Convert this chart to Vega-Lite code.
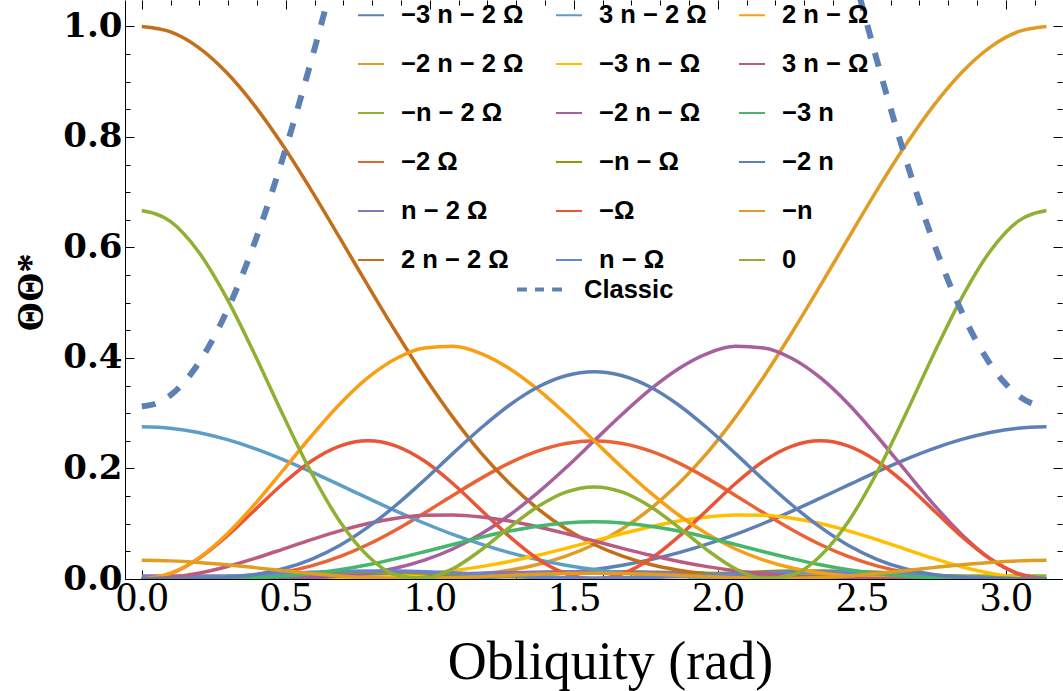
{
  "$schema": "https://vega.github.io/schema/vega-lite/v6.json",
  "autosize": {"type": "none"},
  "padding": {"left": 125, "top": 0, "right": 1, "bottom": 112},
  "width": 937,
  "height": 579,
  "config": {"view": {"stroke": null}, "font": "Liberation Serif"},
  "datasets": {
    "curves": [
      {"t":"−3 n − 2 Ω","x":0,"y":0},{"t":"−3 n − 2 Ω","x":0.0982,"y":0},{"t":"−3 n − 2 Ω","x":0.1963,"y":0},{"t":"−3 n − 2 Ω","x":0.2945,"y":0},{"t":"−3 n − 2 Ω","x":0.3927,"y":0},{"t":"−3 n − 2 Ω","x":0.4909,"y":0},{"t":"−3 n − 2 Ω","x":0.589,"y":0},{"t":"−3 n − 2 Ω","x":0.6872,"y":0},{"t":"−3 n − 2 Ω","x":0.7854,"y":0.0001},{"t":"−3 n − 2 Ω","x":0.8836,"y":0.0003},{"t":"−3 n − 2 Ω","x":0.9817,"y":0.0007},{"t":"−3 n − 2 Ω","x":1.0799,"y":0.0013},{"t":"−3 n − 2 Ω","x":1.1781,"y":0.0025},{"t":"−3 n − 2 Ω","x":1.2763,"y":0.0044},{"t":"−3 n − 2 Ω","x":1.3744,"y":0.0072},{"t":"−3 n − 2 Ω","x":1.4726,"y":0.0114},{"t":"−3 n − 2 Ω","x":1.5708,"y":0.0172},{"t":"−3 n − 2 Ω","x":1.669,"y":0.025},{"t":"−3 n − 2 Ω","x":1.7671,"y":0.0351},{"t":"−3 n − 2 Ω","x":1.8653,"y":0.0477},{"t":"−3 n − 2 Ω","x":1.9635,"y":0.063},{"t":"−3 n − 2 Ω","x":2.0617,"y":0.0807},{"t":"−3 n − 2 Ω","x":2.1598,"y":0.1009},{"t":"−3 n − 2 Ω","x":2.258,"y":0.1229},{"t":"−3 n − 2 Ω","x":2.3562,"y":0.1463},{"t":"−3 n − 2 Ω","x":2.4544,"y":0.1702},{"t":"−3 n − 2 Ω","x":2.5525,"y":0.1938},{"t":"−3 n − 2 Ω","x":2.6507,"y":0.2161},{"t":"−3 n − 2 Ω","x":2.7489,"y":0.236},{"t":"−3 n − 2 Ω","x":2.8471,"y":0.2526},{"t":"−3 n − 2 Ω","x":2.9452,"y":0.2652},{"t":"−3 n − 2 Ω","x":3.0434,"y":0.273},{"t":"−3 n − 2 Ω","x":3.1416,"y":0.2756},
      {"t":"−2 n − 2 Ω","x":0,"y":0},{"t":"−2 n − 2 Ω","x":0.0982,"y":0},{"t":"−2 n − 2 Ω","x":0.1963,"y":0},{"t":"−2 n − 2 Ω","x":0.2945,"y":0},{"t":"−2 n − 2 Ω","x":0.3927,"y":0},{"t":"−2 n − 2 Ω","x":0.4909,"y":0},{"t":"−2 n − 2 Ω","x":0.589,"y":0.0001},{"t":"−2 n − 2 Ω","x":0.6872,"y":0.0002},{"t":"−2 n − 2 Ω","x":0.7854,"y":0.0005},{"t":"−2 n − 2 Ω","x":0.8836,"y":0.0011},{"t":"−2 n − 2 Ω","x":0.9817,"y":0.0024},{"t":"−2 n − 2 Ω","x":1.0799,"y":0.0049},{"t":"−2 n − 2 Ω","x":1.1781,"y":0.0091},{"t":"−2 n − 2 Ω","x":1.2763,"y":0.0159},{"t":"−2 n − 2 Ω","x":1.3744,"y":0.0262},{"t":"−2 n − 2 Ω","x":1.4726,"y":0.0414},{"t":"−2 n − 2 Ω","x":1.5708,"y":0.0625},{"t":"−2 n − 2 Ω","x":1.669,"y":0.0908},{"t":"−2 n − 2 Ω","x":1.7671,"y":0.1275},{"t":"−2 n − 2 Ω","x":1.8653,"y":0.1732},{"t":"−2 n − 2 Ω","x":1.9635,"y":0.2284},{"t":"−2 n − 2 Ω","x":2.0617,"y":0.293},{"t":"−2 n − 2 Ω","x":2.1598,"y":0.366},{"t":"−2 n − 2 Ω","x":2.258,"y":0.446},{"t":"−2 n − 2 Ω","x":2.3562,"y":0.5308},{"t":"−2 n − 2 Ω","x":2.4544,"y":0.6176},{"t":"−2 n − 2 Ω","x":2.5525,"y":0.7032},{"t":"−2 n − 2 Ω","x":2.6507,"y":0.7839},{"t":"−2 n − 2 Ω","x":2.7489,"y":0.8562},{"t":"−2 n − 2 Ω","x":2.8471,"y":0.9166},{"t":"−2 n − 2 Ω","x":2.9452,"y":0.9621},{"t":"−2 n − 2 Ω","x":3.0434,"y":0.9904},{"t":"−2 n − 2 Ω","x":3.1416,"y":1},
      {"t":"−n − 2 Ω","x":0,"y":0},{"t":"−n − 2 Ω","x":0.0982,"y":0},{"t":"−n − 2 Ω","x":0.1963,"y":0},{"t":"−n − 2 Ω","x":0.2945,"y":0.0001},{"t":"−n − 2 Ω","x":0.3927,"y":0.0003},{"t":"−n − 2 Ω","x":0.4909,"y":0.0006},{"t":"−n − 2 Ω","x":0.589,"y":0.0012},{"t":"−n − 2 Ω","x":0.6872,"y":0.0021},{"t":"−n − 2 Ω","x":0.7854,"y":0.0032},{"t":"−n − 2 Ω","x":0.8836,"y":0.0045},{"t":"−n − 2 Ω","x":0.9817,"y":0.0061},{"t":"−n − 2 Ω","x":1.0799,"y":0.0077},{"t":"−n − 2 Ω","x":1.1781,"y":0.0093},{"t":"−n − 2 Ω","x":1.2763,"y":0.0107},{"t":"−n − 2 Ω","x":1.3744,"y":0.0119},{"t":"−n − 2 Ω","x":1.4726,"y":0.0127},{"t":"−n − 2 Ω","x":1.5708,"y":0.013},{"t":"−n − 2 Ω","x":1.669,"y":0.0129},{"t":"−n − 2 Ω","x":1.7671,"y":0.0124},{"t":"−n − 2 Ω","x":1.8653,"y":0.0116},{"t":"−n − 2 Ω","x":1.9635,"y":0.0105},{"t":"−n − 2 Ω","x":2.0617,"y":0.0093},{"t":"−n − 2 Ω","x":2.1598,"y":0.0081},{"t":"−n − 2 Ω","x":2.258,"y":0.007},{"t":"−n − 2 Ω","x":2.3562,"y":0.0062},{"t":"−n − 2 Ω","x":2.4544,"y":0.0055},{"t":"−n − 2 Ω","x":2.5525,"y":0.0052},{"t":"−n − 2 Ω","x":2.6507,"y":0.005},{"t":"−n − 2 Ω","x":2.7489,"y":0.0051},{"t":"−n − 2 Ω","x":2.8471,"y":0.0053},{"t":"−n − 2 Ω","x":2.9452,"y":0.0054},{"t":"−n − 2 Ω","x":3.0434,"y":0.0056},{"t":"−n − 2 Ω","x":3.1416,"y":0.0056},
      {"t":"−2 Ω","x":0,"y":0},{"t":"−2 Ω","x":0.0982,"y":0},{"t":"−2 Ω","x":0.1963,"y":0.0004},{"t":"−2 Ω","x":0.2945,"y":0.0018},{"t":"−2 Ω","x":0.3927,"y":0.0054},{"t":"−2 Ω","x":0.4909,"y":0.0123},{"t":"−2 Ω","x":0.589,"y":0.0238},{"t":"−2 Ω","x":0.6872,"y":0.0405},{"t":"−2 Ω","x":0.7854,"y":0.0625},{"t":"−2 Ω","x":0.8836,"y":0.0893},{"t":"−2 Ω","x":0.9817,"y":0.1195},{"t":"−2 Ω","x":1.0799,"y":0.1512},{"t":"−2 Ω","x":1.1781,"y":0.1821},{"t":"−2 Ω","x":1.2763,"y":0.2096},{"t":"−2 Ω","x":1.3744,"y":0.2313},{"t":"−2 Ω","x":1.4726,"y":0.2452},{"t":"−2 Ω","x":1.5708,"y":0.25},{"t":"−2 Ω","x":1.669,"y":0.2452},{"t":"−2 Ω","x":1.7671,"y":0.2313},{"t":"−2 Ω","x":1.8653,"y":0.2096},{"t":"−2 Ω","x":1.9635,"y":0.1821},{"t":"−2 Ω","x":2.0617,"y":0.1512},{"t":"−2 Ω","x":2.1598,"y":0.1195},{"t":"−2 Ω","x":2.258,"y":0.0893},{"t":"−2 Ω","x":2.3562,"y":0.0625},{"t":"−2 Ω","x":2.4544,"y":0.0405},{"t":"−2 Ω","x":2.5525,"y":0.0238},{"t":"−2 Ω","x":2.6507,"y":0.0123},{"t":"−2 Ω","x":2.7489,"y":0.0054},{"t":"−2 Ω","x":2.8471,"y":0.0018},{"t":"−2 Ω","x":2.9452,"y":0.0004},{"t":"−2 Ω","x":3.0434,"y":0},{"t":"−2 Ω","x":3.1416,"y":0},
      {"t":"n − 2 Ω","x":0,"y":0.0056},{"t":"n − 2 Ω","x":0.0982,"y":0.0056},{"t":"n − 2 Ω","x":0.1963,"y":0.0054},{"t":"n − 2 Ω","x":0.2945,"y":0.0053},{"t":"n − 2 Ω","x":0.3927,"y":0.0051},{"t":"n − 2 Ω","x":0.4909,"y":0.005},{"t":"n − 2 Ω","x":0.589,"y":0.0052},{"t":"n − 2 Ω","x":0.6872,"y":0.0055},{"t":"n − 2 Ω","x":0.7854,"y":0.0062},{"t":"n − 2 Ω","x":0.8836,"y":0.007},{"t":"n − 2 Ω","x":0.9817,"y":0.0081},{"t":"n − 2 Ω","x":1.0799,"y":0.0093},{"t":"n − 2 Ω","x":1.1781,"y":0.0105},{"t":"n − 2 Ω","x":1.2763,"y":0.0116},{"t":"n − 2 Ω","x":1.3744,"y":0.0124},{"t":"n − 2 Ω","x":1.4726,"y":0.0129},{"t":"n − 2 Ω","x":1.5708,"y":0.013},{"t":"n − 2 Ω","x":1.669,"y":0.0127},{"t":"n − 2 Ω","x":1.7671,"y":0.0119},{"t":"n − 2 Ω","x":1.8653,"y":0.0107},{"t":"n − 2 Ω","x":1.9635,"y":0.0093},{"t":"n − 2 Ω","x":2.0617,"y":0.0077},{"t":"n − 2 Ω","x":2.1598,"y":0.0061},{"t":"n − 2 Ω","x":2.258,"y":0.0045},{"t":"n − 2 Ω","x":2.3562,"y":0.0032},{"t":"n − 2 Ω","x":2.4544,"y":0.0021},{"t":"n − 2 Ω","x":2.5525,"y":0.0012},{"t":"n − 2 Ω","x":2.6507,"y":0.0006},{"t":"n − 2 Ω","x":2.7489,"y":0.0003},{"t":"n − 2 Ω","x":2.8471,"y":0.0001},{"t":"n − 2 Ω","x":2.9452,"y":0},{"t":"n − 2 Ω","x":3.0434,"y":0},{"t":"n − 2 Ω","x":3.1416,"y":0},
      {"t":"2 n − 2 Ω","x":0,"y":1},{"t":"2 n − 2 Ω","x":0.0982,"y":0.9904},{"t":"2 n − 2 Ω","x":0.1963,"y":0.9621},{"t":"2 n − 2 Ω","x":0.2945,"y":0.9166},{"t":"2 n − 2 Ω","x":0.3927,"y":0.8562},{"t":"2 n − 2 Ω","x":0.4909,"y":0.7839},{"t":"2 n − 2 Ω","x":0.589,"y":0.7032},{"t":"2 n − 2 Ω","x":0.6872,"y":0.6176},{"t":"2 n − 2 Ω","x":0.7854,"y":0.5308},{"t":"2 n − 2 Ω","x":0.8836,"y":0.446},{"t":"2 n − 2 Ω","x":0.9817,"y":0.366},{"t":"2 n − 2 Ω","x":1.0799,"y":0.293},{"t":"2 n − 2 Ω","x":1.1781,"y":0.2284},{"t":"2 n − 2 Ω","x":1.2763,"y":0.1732},{"t":"2 n − 2 Ω","x":1.3744,"y":0.1275},{"t":"2 n − 2 Ω","x":1.4726,"y":0.0908},{"t":"2 n − 2 Ω","x":1.5708,"y":0.0625},{"t":"2 n − 2 Ω","x":1.669,"y":0.0414},{"t":"2 n − 2 Ω","x":1.7671,"y":0.0262},{"t":"2 n − 2 Ω","x":1.8653,"y":0.0159},{"t":"2 n − 2 Ω","x":1.9635,"y":0.0091},{"t":"2 n − 2 Ω","x":2.0617,"y":0.0049},{"t":"2 n − 2 Ω","x":2.1598,"y":0.0024},{"t":"2 n − 2 Ω","x":2.258,"y":0.0011},{"t":"2 n − 2 Ω","x":2.3562,"y":0.0005},{"t":"2 n − 2 Ω","x":2.4544,"y":0.0002},{"t":"2 n − 2 Ω","x":2.5525,"y":0.0001},{"t":"2 n − 2 Ω","x":2.6507,"y":0},{"t":"2 n − 2 Ω","x":2.7489,"y":0},{"t":"2 n − 2 Ω","x":2.8471,"y":0},{"t":"2 n − 2 Ω","x":2.9452,"y":0},{"t":"2 n − 2 Ω","x":3.0434,"y":0},{"t":"2 n − 2 Ω","x":3.1416,"y":0},
      {"t":"3 n − 2 Ω","x":0,"y":0.2756},{"t":"3 n − 2 Ω","x":0.0982,"y":0.273},{"t":"3 n − 2 Ω","x":0.1963,"y":0.2652},{"t":"3 n − 2 Ω","x":0.2945,"y":0.2526},{"t":"3 n − 2 Ω","x":0.3927,"y":0.236},{"t":"3 n − 2 Ω","x":0.4909,"y":0.2161},{"t":"3 n − 2 Ω","x":0.589,"y":0.1938},{"t":"3 n − 2 Ω","x":0.6872,"y":0.1702},{"t":"3 n − 2 Ω","x":0.7854,"y":0.1463},{"t":"3 n − 2 Ω","x":0.8836,"y":0.1229},{"t":"3 n − 2 Ω","x":0.9817,"y":0.1009},{"t":"3 n − 2 Ω","x":1.0799,"y":0.0807},{"t":"3 n − 2 Ω","x":1.1781,"y":0.063},{"t":"3 n − 2 Ω","x":1.2763,"y":0.0477},{"t":"3 n − 2 Ω","x":1.3744,"y":0.0351},{"t":"3 n − 2 Ω","x":1.4726,"y":0.025},{"t":"3 n − 2 Ω","x":1.5708,"y":0.0172},{"t":"3 n − 2 Ω","x":1.669,"y":0.0114},{"t":"3 n − 2 Ω","x":1.7671,"y":0.0072},{"t":"3 n − 2 Ω","x":1.8653,"y":0.0044},{"t":"3 n − 2 Ω","x":1.9635,"y":0.0025},{"t":"3 n − 2 Ω","x":2.0617,"y":0.0013},{"t":"3 n − 2 Ω","x":2.1598,"y":0.0007},{"t":"3 n − 2 Ω","x":2.258,"y":0.0003},{"t":"3 n − 2 Ω","x":2.3562,"y":0.0001},{"t":"3 n − 2 Ω","x":2.4544,"y":0},{"t":"3 n − 2 Ω","x":2.5525,"y":0},{"t":"3 n − 2 Ω","x":2.6507,"y":0},{"t":"3 n − 2 Ω","x":2.7489,"y":0},{"t":"3 n − 2 Ω","x":2.8471,"y":0},{"t":"3 n − 2 Ω","x":2.9452,"y":0},{"t":"3 n − 2 Ω","x":3.0434,"y":0},{"t":"3 n − 2 Ω","x":3.1416,"y":0},
      {"t":"−3 n − Ω","x":0,"y":0},{"t":"−3 n − Ω","x":0.0982,"y":0},{"t":"−3 n − Ω","x":0.1963,"y":0},{"t":"−3 n − Ω","x":0.2945,"y":0},{"t":"−3 n − Ω","x":0.3927,"y":0.0001},{"t":"−3 n − Ω","x":0.4909,"y":0.0002},{"t":"−3 n − Ω","x":0.589,"y":0.0006},{"t":"−3 n − Ω","x":0.6872,"y":0.0014},{"t":"−3 n − Ω","x":0.7854,"y":0.003},{"t":"−3 n − Ω","x":0.8836,"y":0.0055},{"t":"−3 n − Ω","x":0.9817,"y":0.0094},{"t":"−3 n − Ω","x":1.0799,"y":0.015},{"t":"−3 n − Ω","x":1.1781,"y":0.0224},{"t":"−3 n − Ω","x":1.2763,"y":0.0318},{"t":"−3 n − Ω","x":1.3744,"y":0.0429},{"t":"−3 n − Ω","x":1.4726,"y":0.0555},{"t":"−3 n − Ω","x":1.5708,"y":0.0689},{"t":"−3 n − Ω","x":1.669,"y":0.0823},{"t":"−3 n − Ω","x":1.7671,"y":0.0947},{"t":"−3 n − Ω","x":1.8653,"y":0.105},{"t":"−3 n − Ω","x":1.9635,"y":0.1124},{"t":"−3 n − Ω","x":2.0617,"y":0.116},{"t":"−3 n − Ω","x":2.1598,"y":0.1153},{"t":"−3 n − Ω","x":2.258,"y":0.11},{"t":"−3 n − Ω","x":2.3562,"y":0.1004},{"t":"−3 n − Ω","x":2.4544,"y":0.0872},{"t":"−3 n − Ω","x":2.5525,"y":0.0713},{"t":"−3 n − Ω","x":2.6507,"y":0.0542},{"t":"−3 n − Ω","x":2.7489,"y":0.0373},{"t":"−3 n − Ω","x":2.8471,"y":0.0222},{"t":"−3 n − Ω","x":2.9452,"y":0.0103},{"t":"−3 n − Ω","x":3.0434,"y":0.0026},{"t":"−3 n − Ω","x":3.1416,"y":0},
      {"t":"−2 n − Ω","x":0,"y":0},{"t":"−2 n − Ω","x":0.0982,"y":0},{"t":"−2 n − Ω","x":0.1963,"y":0},{"t":"−2 n − Ω","x":0.2945,"y":0},{"t":"−2 n − Ω","x":0.3927,"y":0.0002},{"t":"−2 n − Ω","x":0.4909,"y":0.0008},{"t":"−2 n − Ω","x":0.589,"y":0.0022},{"t":"−2 n − Ω","x":0.6872,"y":0.0052},{"t":"−2 n − Ω","x":0.7854,"y":0.0107},{"t":"−2 n − Ω","x":0.8836,"y":0.02},{"t":"−2 n − Ω","x":0.9817,"y":0.0341},{"t":"−2 n − Ω","x":1.0799,"y":0.0543},{"t":"−2 n − Ω","x":1.1781,"y":0.0813},{"t":"−2 n − Ω","x":1.2763,"y":0.1153},{"t":"−2 n − Ω","x":1.3744,"y":0.1558},{"t":"−2 n − Ω","x":1.4726,"y":0.2014},{"t":"−2 n − Ω","x":1.5708,"y":0.25},{"t":"−2 n − Ω","x":1.669,"y":0.2985},{"t":"−2 n − Ω","x":1.7671,"y":0.3435},{"t":"−2 n − Ω","x":1.8653,"y":0.3811},{"t":"−2 n − Ω","x":1.9635,"y":0.408},{"t":"−2 n − Ω","x":2.0617,"y":0.421},{"t":"−2 n − Ω","x":2.1598,"y":0.4182},{"t":"−2 n − Ω","x":2.258,"y":0.399},{"t":"−2 n − Ω","x":2.3562,"y":0.3643},{"t":"−2 n − Ω","x":2.4544,"y":0.3163},{"t":"−2 n − Ω","x":2.5525,"y":0.2588},{"t":"−2 n − Ω","x":2.6507,"y":0.1968},{"t":"−2 n − Ω","x":2.7489,"y":0.1355},{"t":"−2 n − Ω","x":2.8471,"y":0.0807},{"t":"−2 n − Ω","x":2.9452,"y":0.0373},{"t":"−2 n − Ω","x":3.0434,"y":0.0096},{"t":"−2 n − Ω","x":3.1416,"y":0},
      {"t":"−n − Ω","x":0,"y":0},{"t":"−n − Ω","x":0.0982,"y":0.0005},{"t":"−n − Ω","x":0.1963,"y":0.0019},{"t":"−n − Ω","x":0.2945,"y":0.0039},{"t":"−n − Ω","x":0.3927,"y":0.0063},{"t":"−n − Ω","x":0.4909,"y":0.0088},{"t":"−n − Ω","x":0.589,"y":0.0108},{"t":"−n − Ω","x":0.6872,"y":0.0122},{"t":"−n − Ω","x":0.7854,"y":0.0127},{"t":"−n − Ω","x":0.8836,"y":0.0123},{"t":"−n − Ω","x":0.9817,"y":0.011},{"t":"−n − Ω","x":1.0799,"y":0.0091},{"t":"−n − Ω","x":1.1781,"y":0.0068},{"t":"−n − Ω","x":1.2763,"y":0.0046},{"t":"−n − Ω","x":1.3744,"y":0.0027},{"t":"−n − Ω","x":1.4726,"y":0.0016},{"t":"−n − Ω","x":1.5708,"y":0.0014},{"t":"−n − Ω","x":1.669,"y":0.0022},{"t":"−n − Ω","x":1.7671,"y":0.0038},{"t":"−n − Ω","x":1.8653,"y":0.0061},{"t":"−n − Ω","x":1.9635,"y":0.0086},{"t":"−n − Ω","x":2.0617,"y":0.0111},{"t":"−n − Ω","x":2.1598,"y":0.0132},{"t":"−n − Ω","x":2.258,"y":0.0144},{"t":"−n − Ω","x":2.3562,"y":0.0147},{"t":"−n − Ω","x":2.4544,"y":0.014},{"t":"−n − Ω","x":2.5525,"y":0.0123},{"t":"−n − Ω","x":2.6507,"y":0.0099},{"t":"−n − Ω","x":2.7489,"y":0.0071},{"t":"−n − Ω","x":2.8471,"y":0.0044},{"t":"−n − Ω","x":2.9452,"y":0.0021},{"t":"−n − Ω","x":3.0434,"y":0.0005},{"t":"−n − Ω","x":3.1416,"y":0},
      {"t":"−Ω","x":0,"y":0},{"t":"−Ω","x":0.0982,"y":0.0095},{"t":"−Ω","x":0.1963,"y":0.0366},{"t":"−Ω","x":0.2945,"y":0.0772},{"t":"−Ω","x":0.3927,"y":0.125},{"t":"−Ω","x":0.4909,"y":0.1728},{"t":"−Ω","x":0.589,"y":0.2134},{"t":"−Ω","x":0.6872,"y":0.2405},{"t":"−Ω","x":0.7854,"y":0.25},{"t":"−Ω","x":0.8836,"y":0.2405},{"t":"−Ω","x":0.9817,"y":0.2134},{"t":"−Ω","x":1.0799,"y":0.1728},{"t":"−Ω","x":1.1781,"y":0.125},{"t":"−Ω","x":1.2763,"y":0.0772},{"t":"−Ω","x":1.3744,"y":0.0366},{"t":"−Ω","x":1.4726,"y":0.0095},{"t":"−Ω","x":1.5708,"y":0},{"t":"−Ω","x":1.669,"y":0.0095},{"t":"−Ω","x":1.7671,"y":0.0366},{"t":"−Ω","x":1.8653,"y":0.0772},{"t":"−Ω","x":1.9635,"y":0.125},{"t":"−Ω","x":2.0617,"y":0.1728},{"t":"−Ω","x":2.1598,"y":0.2134},{"t":"−Ω","x":2.258,"y":0.2405},{"t":"−Ω","x":2.3562,"y":0.25},{"t":"−Ω","x":2.4544,"y":0.2405},{"t":"−Ω","x":2.5525,"y":0.2134},{"t":"−Ω","x":2.6507,"y":0.1728},{"t":"−Ω","x":2.7489,"y":0.125},{"t":"−Ω","x":2.8471,"y":0.0772},{"t":"−Ω","x":2.9452,"y":0.0366},{"t":"−Ω","x":3.0434,"y":0.0095},{"t":"−Ω","x":3.1416,"y":0},
      {"t":"n − Ω","x":0,"y":0},{"t":"n − Ω","x":0.0982,"y":0.0005},{"t":"n − Ω","x":0.1963,"y":0.0021},{"t":"n − Ω","x":0.2945,"y":0.0044},{"t":"n − Ω","x":0.3927,"y":0.0071},{"t":"n − Ω","x":0.4909,"y":0.0099},{"t":"n − Ω","x":0.589,"y":0.0123},{"t":"n − Ω","x":0.6872,"y":0.014},{"t":"n − Ω","x":0.7854,"y":0.0147},{"t":"n − Ω","x":0.8836,"y":0.0144},{"t":"n − Ω","x":0.9817,"y":0.0132},{"t":"n − Ω","x":1.0799,"y":0.0111},{"t":"n − Ω","x":1.1781,"y":0.0086},{"t":"n − Ω","x":1.2763,"y":0.0061},{"t":"n − Ω","x":1.3744,"y":0.0038},{"t":"n − Ω","x":1.4726,"y":0.0022},{"t":"n − Ω","x":1.5708,"y":0.0014},{"t":"n − Ω","x":1.669,"y":0.0016},{"t":"n − Ω","x":1.7671,"y":0.0027},{"t":"n − Ω","x":1.8653,"y":0.0046},{"t":"n − Ω","x":1.9635,"y":0.0068},{"t":"n − Ω","x":2.0617,"y":0.0091},{"t":"n − Ω","x":2.1598,"y":0.011},{"t":"n − Ω","x":2.258,"y":0.0123},{"t":"n − Ω","x":2.3562,"y":0.0127},{"t":"n − Ω","x":2.4544,"y":0.0122},{"t":"n − Ω","x":2.5525,"y":0.0108},{"t":"n − Ω","x":2.6507,"y":0.0088},{"t":"n − Ω","x":2.7489,"y":0.0063},{"t":"n − Ω","x":2.8471,"y":0.0039},{"t":"n − Ω","x":2.9452,"y":0.0019},{"t":"n − Ω","x":3.0434,"y":0.0005},{"t":"n − Ω","x":3.1416,"y":0},
      {"t":"2 n − Ω","x":0,"y":0},{"t":"2 n − Ω","x":0.0982,"y":0.0096},{"t":"2 n − Ω","x":0.1963,"y":0.0373},{"t":"2 n − Ω","x":0.2945,"y":0.0807},{"t":"2 n − Ω","x":0.3927,"y":0.1355},{"t":"2 n − Ω","x":0.4909,"y":0.1968},{"t":"2 n − Ω","x":0.589,"y":0.2588},{"t":"2 n − Ω","x":0.6872,"y":0.3163},{"t":"2 n − Ω","x":0.7854,"y":0.3643},{"t":"2 n − Ω","x":0.8836,"y":0.399},{"t":"2 n − Ω","x":0.9817,"y":0.4182},{"t":"2 n − Ω","x":1.0799,"y":0.421},{"t":"2 n − Ω","x":1.1781,"y":0.408},{"t":"2 n − Ω","x":1.2763,"y":0.3811},{"t":"2 n − Ω","x":1.3744,"y":0.3435},{"t":"2 n − Ω","x":1.4726,"y":0.2985},{"t":"2 n − Ω","x":1.5708,"y":0.25},{"t":"2 n − Ω","x":1.669,"y":0.2014},{"t":"2 n − Ω","x":1.7671,"y":0.1558},{"t":"2 n − Ω","x":1.8653,"y":0.1153},{"t":"2 n − Ω","x":1.9635,"y":0.0813},{"t":"2 n − Ω","x":2.0617,"y":0.0543},{"t":"2 n − Ω","x":2.1598,"y":0.0341},{"t":"2 n − Ω","x":2.258,"y":0.02},{"t":"2 n − Ω","x":2.3562,"y":0.0107},{"t":"2 n − Ω","x":2.4544,"y":0.0052},{"t":"2 n − Ω","x":2.5525,"y":0.0022},{"t":"2 n − Ω","x":2.6507,"y":0.0008},{"t":"2 n − Ω","x":2.7489,"y":0.0002},{"t":"2 n − Ω","x":2.8471,"y":0},{"t":"2 n − Ω","x":2.9452,"y":0},{"t":"2 n − Ω","x":3.0434,"y":0},{"t":"2 n − Ω","x":3.1416,"y":0},
      {"t":"3 n − Ω","x":0,"y":0},{"t":"3 n − Ω","x":0.0982,"y":0.0026},{"t":"3 n − Ω","x":0.1963,"y":0.0103},{"t":"3 n − Ω","x":0.2945,"y":0.0222},{"t":"3 n − Ω","x":0.3927,"y":0.0373},{"t":"3 n − Ω","x":0.4909,"y":0.0542},{"t":"3 n − Ω","x":0.589,"y":0.0713},{"t":"3 n − Ω","x":0.6872,"y":0.0872},{"t":"3 n − Ω","x":0.7854,"y":0.1004},{"t":"3 n − Ω","x":0.8836,"y":0.11},{"t":"3 n − Ω","x":0.9817,"y":0.1153},{"t":"3 n − Ω","x":1.0799,"y":0.116},{"t":"3 n − Ω","x":1.1781,"y":0.1124},{"t":"3 n − Ω","x":1.2763,"y":0.105},{"t":"3 n − Ω","x":1.3744,"y":0.0947},{"t":"3 n − Ω","x":1.4726,"y":0.0823},{"t":"3 n − Ω","x":1.5708,"y":0.0689},{"t":"3 n − Ω","x":1.669,"y":0.0555},{"t":"3 n − Ω","x":1.7671,"y":0.0429},{"t":"3 n − Ω","x":1.8653,"y":0.0318},{"t":"3 n − Ω","x":1.9635,"y":0.0224},{"t":"3 n − Ω","x":2.0617,"y":0.015},{"t":"3 n − Ω","x":2.1598,"y":0.0094},{"t":"3 n − Ω","x":2.258,"y":0.0055},{"t":"3 n − Ω","x":2.3562,"y":0.003},{"t":"3 n − Ω","x":2.4544,"y":0.0014},{"t":"3 n − Ω","x":2.5525,"y":0.0006},{"t":"3 n − Ω","x":2.6507,"y":0.0002},{"t":"3 n − Ω","x":2.7489,"y":0.0001},{"t":"3 n − Ω","x":2.8471,"y":0},{"t":"3 n − Ω","x":2.9452,"y":0},{"t":"3 n − Ω","x":3.0434,"y":0},{"t":"3 n − Ω","x":3.1416,"y":0},
      {"t":"−3 n","x":0,"y":0},{"t":"−3 n","x":0.0982,"y":0},{"t":"−3 n","x":0.1963,"y":0.0001},{"t":"−3 n","x":0.2945,"y":0.0007},{"t":"−3 n","x":0.3927,"y":0.0022},{"t":"−3 n","x":0.4909,"y":0.0051},{"t":"−3 n","x":0.589,"y":0.0098},{"t":"−3 n","x":0.6872,"y":0.0167},{"t":"−3 n","x":0.7854,"y":0.0258},{"t":"−3 n","x":0.8836,"y":0.0369},{"t":"−3 n","x":0.9817,"y":0.0494},{"t":"−3 n","x":1.0799,"y":0.0625},{"t":"−3 n","x":1.1781,"y":0.0753},{"t":"−3 n","x":1.2763,"y":0.0867},{"t":"−3 n","x":1.3744,"y":0.0956},{"t":"−3 n","x":1.4726,"y":0.1014},{"t":"−3 n","x":1.5708,"y":0.1034},{"t":"−3 n","x":1.669,"y":0.1014},{"t":"−3 n","x":1.7671,"y":0.0956},{"t":"−3 n","x":1.8653,"y":0.0867},{"t":"−3 n","x":1.9635,"y":0.0753},{"t":"−3 n","x":2.0617,"y":0.0625},{"t":"−3 n","x":2.1598,"y":0.0494},{"t":"−3 n","x":2.258,"y":0.0369},{"t":"−3 n","x":2.3562,"y":0.0258},{"t":"−3 n","x":2.4544,"y":0.0167},{"t":"−3 n","x":2.5525,"y":0.0098},{"t":"−3 n","x":2.6507,"y":0.0051},{"t":"−3 n","x":2.7489,"y":0.0022},{"t":"−3 n","x":2.8471,"y":0.0007},{"t":"−3 n","x":2.9452,"y":0.0001},{"t":"−3 n","x":3.0434,"y":0},{"t":"−3 n","x":3.1416,"y":0},
      {"t":"−2 n","x":0,"y":0},{"t":"−2 n","x":0.0982,"y":0},{"t":"−2 n","x":0.1963,"y":0.0005},{"t":"−2 n","x":0.2945,"y":0.0027},{"t":"−2 n","x":0.3927,"y":0.008},{"t":"−2 n","x":0.4909,"y":0.0185},{"t":"−2 n","x":0.589,"y":0.0357},{"t":"−2 n","x":0.6872,"y":0.0607},{"t":"−2 n","x":0.7854,"y":0.0938},{"t":"−2 n","x":0.8836,"y":0.1339},{"t":"−2 n","x":0.9817,"y":0.1792},{"t":"−2 n","x":1.0799,"y":0.2269},{"t":"−2 n","x":1.1781,"y":0.2732},{"t":"−2 n","x":1.2763,"y":0.3145},{"t":"−2 n","x":1.3744,"y":0.347},{"t":"−2 n","x":1.4726,"y":0.3678},{"t":"−2 n","x":1.5708,"y":0.375},{"t":"−2 n","x":1.669,"y":0.3678},{"t":"−2 n","x":1.7671,"y":0.347},{"t":"−2 n","x":1.8653,"y":0.3145},{"t":"−2 n","x":1.9635,"y":0.2732},{"t":"−2 n","x":2.0617,"y":0.2269},{"t":"−2 n","x":2.1598,"y":0.1792},{"t":"−2 n","x":2.258,"y":0.1339},{"t":"−2 n","x":2.3562,"y":0.0938},{"t":"−2 n","x":2.4544,"y":0.0607},{"t":"−2 n","x":2.5525,"y":0.0357},{"t":"−2 n","x":2.6507,"y":0.0185},{"t":"−2 n","x":2.7489,"y":0.008},{"t":"−2 n","x":2.8471,"y":0.0027},{"t":"−2 n","x":2.9452,"y":0.0005},{"t":"−2 n","x":3.0434,"y":0},{"t":"−2 n","x":3.1416,"y":0},
      {"t":"−n","x":0,"y":0.0338},{"t":"−n","x":0.0982,"y":0.0328},{"t":"−n","x":0.1963,"y":0.03},{"t":"−n","x":0.2945,"y":0.0258},{"t":"−n","x":0.3927,"y":0.0206},{"t":"−n","x":0.4909,"y":0.0151},{"t":"−n","x":0.589,"y":0.0099},{"t":"−n","x":0.6872,"y":0.0056},{"t":"−n","x":0.7854,"y":0.0026},{"t":"−n","x":0.8836,"y":0.0011},{"t":"−n","x":0.9817,"y":0.0011},{"t":"−n","x":1.0799,"y":0.0022},{"t":"−n","x":1.1781,"y":0.0042},{"t":"−n","x":1.2763,"y":0.0065},{"t":"−n","x":1.3744,"y":0.0086},{"t":"−n","x":1.4726,"y":0.01},{"t":"−n","x":1.5708,"y":0.0106},{"t":"−n","x":1.669,"y":0.01},{"t":"−n","x":1.7671,"y":0.0086},{"t":"−n","x":1.8653,"y":0.0065},{"t":"−n","x":1.9635,"y":0.0042},{"t":"−n","x":2.0617,"y":0.0022},{"t":"−n","x":2.1598,"y":0.0011},{"t":"−n","x":2.258,"y":0.0011},{"t":"−n","x":2.3562,"y":0.0026},{"t":"−n","x":2.4544,"y":0.0056},{"t":"−n","x":2.5525,"y":0.0099},{"t":"−n","x":2.6507,"y":0.0151},{"t":"−n","x":2.7489,"y":0.0206},{"t":"−n","x":2.8471,"y":0.0258},{"t":"−n","x":2.9452,"y":0.03},{"t":"−n","x":3.0434,"y":0.0328},{"t":"−n","x":3.1416,"y":0.0338},
      {"t":"0","x":0,"y":0.6667},{"t":"0","x":0.0982,"y":0.6476},{"t":"0","x":0.1963,"y":0.5927},{"t":"0","x":0.2945,"y":0.5088},{"t":"0","x":0.3927,"y":0.4059},{"t":"0","x":0.4909,"y":0.2963},{"t":"0","x":0.589,"y":0.1923},{"t":"0","x":0.6872,"y":0.1047},{"t":"0","x":0.7854,"y":0.0417},{"t":"0","x":0.8836,"y":0.0072},{"t":"0","x":0.9817,"y":0.0009},{"t":"0","x":1.0799,"y":0.0185},{"t":"0","x":1.1781,"y":0.0524},{"t":"0","x":1.2763,"y":0.0931},{"t":"0","x":1.3744,"y":0.1308},{"t":"0","x":1.4726,"y":0.1572},{"t":"0","x":1.5708,"y":0.1667},{"t":"0","x":1.669,"y":0.1572},{"t":"0","x":1.7671,"y":0.1308},{"t":"0","x":1.8653,"y":0.0931},{"t":"0","x":1.9635,"y":0.0524},{"t":"0","x":2.0617,"y":0.0185},{"t":"0","x":2.1598,"y":0.0009},{"t":"0","x":2.258,"y":0.0072},{"t":"0","x":2.3562,"y":0.0417},{"t":"0","x":2.4544,"y":0.1047},{"t":"0","x":2.5525,"y":0.1923},{"t":"0","x":2.6507,"y":0.2963},{"t":"0","x":2.7489,"y":0.4059},{"t":"0","x":2.8471,"y":0.5088},{"t":"0","x":2.9452,"y":0.5927},{"t":"0","x":3.0434,"y":0.6476},{"t":"0","x":3.1416,"y":0.6667}
    ],
    "classic": [
      {"s":"Classic","seg":"a","x":0,"y":0.3125},{"s":"Classic","seg":"a","x":0.05,"y":0.3176},{"s":"Classic","seg":"a","x":0.1,"y":0.3327},{"s":"Classic","seg":"a","x":0.15,"y":0.3578},{"s":"Classic","seg":"a","x":0.2,"y":0.3926},{"s":"Classic","seg":"a","x":0.25,"y":0.4368},{"s":"Classic","seg":"a","x":0.3,"y":0.4898},{"s":"Classic","seg":"a","x":0.35,"y":0.5512},{"s":"Classic","seg":"a","x":0.4,"y":0.6203},{"s":"Classic","seg":"a","x":0.45,"y":0.6966},{"s":"Classic","seg":"a","x":0.5,"y":0.7791},{"s":"Classic","seg":"a","x":0.55,"y":0.8671},{"s":"Classic","seg":"a","x":0.6,"y":0.9597},{"s":"Classic","seg":"a","x":0.65,"y":1.056},{"s":"Classic","seg":"a","x":0.7,"y":1.155},
      {"s":"Classic","seg":"b","x":2.4416,"y":1.155},{"s":"Classic","seg":"b","x":2.4916,"y":1.056},{"s":"Classic","seg":"b","x":2.5416,"y":0.9597},{"s":"Classic","seg":"b","x":2.5916,"y":0.8671},{"s":"Classic","seg":"b","x":2.6416,"y":0.7791},{"s":"Classic","seg":"b","x":2.6916,"y":0.6966},{"s":"Classic","seg":"b","x":2.7416,"y":0.6203},{"s":"Classic","seg":"b","x":2.7916,"y":0.5512},{"s":"Classic","seg":"b","x":2.8416,"y":0.4898},{"s":"Classic","seg":"b","x":2.8916,"y":0.4368},{"s":"Classic","seg":"b","x":2.9416,"y":0.3926},{"s":"Classic","seg":"b","x":2.9916,"y":0.3578},{"s":"Classic","seg":"b","x":3.0416,"y":0.3327},{"s":"Classic","seg":"b","x":3.0916,"y":0.3176},{"s":"Classic","seg":"b","x":3.1416,"y":0.3125}
    ]
  },
  "layer": [
    {
      "data": {"name": "curves"},
      "mark": {"type": "line", "strokeWidth": 3.5, "interpolate": "monotone", "clip": true},
      "encoding": {
        "x": {
          "field": "x", "type": "quantitative",
          "scale": {"domain": [-0.0582, 3.1954], "nice": false, "zero": false},
          "axis": {
            "orient": "bottom", "grid": false,
            "values": [0,0.1,0.2,0.3,0.4,0.5,0.6,0.7,0.8,0.9,1,1.1,1.2,1.3,1.4,1.5,1.6,1.7,1.8,1.9,2,2.1,2.2,2.3,2.4,2.5,2.6,2.7,2.8,2.9,3,3.1],
            "labelExpr": "abs(datum.value * 2 - round(datum.value * 2)) < 0.001 ? format(datum.value, '.1f') : ''",
            "tickSize": {"condition": {"test": "abs(datum.value * 2 - round(datum.value * 2)) < 0.001", "value": -9}, "value": -5},
            "tickColor": "black", "tickWidth": 1, "domainColor": "black", "domainWidth": 1,
            "labelFont": "Liberation Serif", "labelFontSize": 42, "labelColor": "black",
            "labelPadding": 7, "labelFlush": false, "labelOverlap": false, "labelBound": false,
            "title": "Obliquity (rad)", "titleFont": "Liberation Serif", "titleFontSize": 54,
            "titleFontWeight": "normal", "titleColor": "black",
            "titleX": 485, "titleY": 83, "titleBaseline": "middle", "titleAlign": "center"
          }
        },
        "y": {
          "field": "y", "type": "quantitative",
          "scale": {"domain": [0, 1.0478], "nice": false},
          "axis": {
            "orient": "left", "grid": false,
            "values": [0,0.05,0.1,0.15,0.2,0.25,0.3,0.35,0.4,0.45,0.5,0.55,0.6,0.65,0.7,0.75,0.8,0.85,0.9,0.95,1],
            "labelExpr": "abs(datum.value * 5 - round(datum.value * 5)) < 0.001 ? format(datum.value, '.1f') : ''",
            "tickSize": {"condition": {"test": "abs(datum.value * 5 - round(datum.value * 5)) < 0.001", "value": -9}, "value": -5},
            "tickColor": "black", "tickWidth": 1, "domainColor": "black", "domainWidth": 1,
            "labelFont": "DejaVu Serif", "labelFontSize": 34, "labelFontWeight": "bold", "labelColor": "black",
            "labelPadding": 12, "labelFlush": false, "labelOverlap": false, "labelBound": false,
            "title": "ΘΘ*", "titleFont": "Liberation Serif", "titleFontSize": 38, "titleFontWeight": "bold",
            "titleColor": "black", "titleAngle": 270,
            "titleX": -94, "titleY": 292, "titleBaseline": "middle", "titleAlign": "center"
          }
        },
        "color": {
          "field": "t", "type": "nominal",
          "scale": {
            "domain": ["−3 n − 2 Ω","−2 n − 2 Ω","−n − 2 Ω","−2 Ω","n − 2 Ω","2 n − 2 Ω","3 n − 2 Ω","−3 n − Ω","−2 n − Ω","−n − Ω","−Ω","n − Ω","2 n − Ω","3 n − Ω","−3 n","−2 n","−n","0"],
            "range": ["#5E81B5","#E19C24","#8FB032","#EB6235","#8778B3","#C56E1A","#5D9EC7","#FFBF00","#A5609D","#929600","#E95536","#6685D9","#F89F13","#BC5B80","#47B66D","#5E81B5","#E19C24","#8FB032"]
          },
          "legend": {
            "orient": "none", "legendX": 232, "legendY": 1, "columns": 3, "gridAlign": "each",
            "title": null, "padding": 0, "symbolType": "stroke", "symbolSize": 676, "symbolStrokeWidth": 2,
            "labelFont": "Liberation Sans", "labelFontWeight": "bold", "labelFontSize": 25.5, "labelColor": "black",
            "labelExpr": "replace(replace(datum.label, regexp(' − ', 'g'), ' − '), regexp(' ', 'g'), ' ')",
            "labelOffset": 16, "rowPadding": 21, "columnPadding": 28, "labelLimit": 300
          }
        }
      }
    },
    {
      "data": {"name": "classic"},
      "mark": {"type": "line", "strokeWidth": 6, "color": "#5E81B5", "interpolate": "monotone", "clip": true, "strokeCap": "butt"},
      "encoding": {
        "x": {
          "field": "x", "type": "quantitative",
          "scale": {"domain": [-0.0582, 3.1954], "nice": false, "zero": false},
          "axis": {
            "orient": "top", "grid": false, "domain": false, "labels": false, "title": null,
            "values": [0,0.1,0.2,0.3,0.4,0.5,0.6,0.7,0.8,0.9,1,1.1,1.2,1.3,1.4,1.5,1.6,1.7,1.8,1.9,2,2.1,2.2,2.3,2.4,2.5,2.6,2.7,2.8,2.9,3,3.1],
            "tickSize": {"condition": {"test": "abs(datum.value * 2 - round(datum.value * 2)) < 0.001", "value": -9}, "value": -5},
            "tickColor": "black", "tickWidth": 1
          }
        },
        "y": {
          "field": "y", "type": "quantitative",
          "scale": {"domain": [0, 1.0478], "nice": false},
          "axis": {
            "orient": "right", "grid": false, "domain": false, "labels": false, "title": null,
            "values": [0,0.05,0.1,0.15,0.2,0.25,0.3,0.35,0.4,0.45,0.5,0.55,0.6,0.65,0.7,0.75,0.8,0.85,0.9,0.95,1],
            "tickSize": {"condition": {"test": "abs(datum.value * 5 - round(datum.value * 5)) < 0.001", "value": -9}, "value": -5},
            "tickColor": "black", "tickWidth": 1
          }
        },
        "detail": {"field": "seg", "type": "nominal"},
        "strokeDash": {
          "field": "s", "type": "nominal",
          "scale": {"domain": ["Classic"], "range": [[14, 15]]},
          "legend": {
            "orient": "none", "legendX": 390, "legendY": 265, "title": null, "padding": 0,
            "symbolType": "M-1,0H-0.56M-0.2,0H0.2M0.56,0H1", "symbolSize": 2025, "symbolStrokeWidth": 4,
            "symbolStrokeColor": "#5E81B5", "symbolFillColor": "transparent",
            "labelFont": "Liberation Sans", "labelFontWeight": "bold", "labelFontSize": 25.5, "labelColor": "black",
            "labelOffset": 20
          }
        }
      }
    }
  ],
  "resolve": {"axis": {"x": "independent", "y": "independent"}}
}
